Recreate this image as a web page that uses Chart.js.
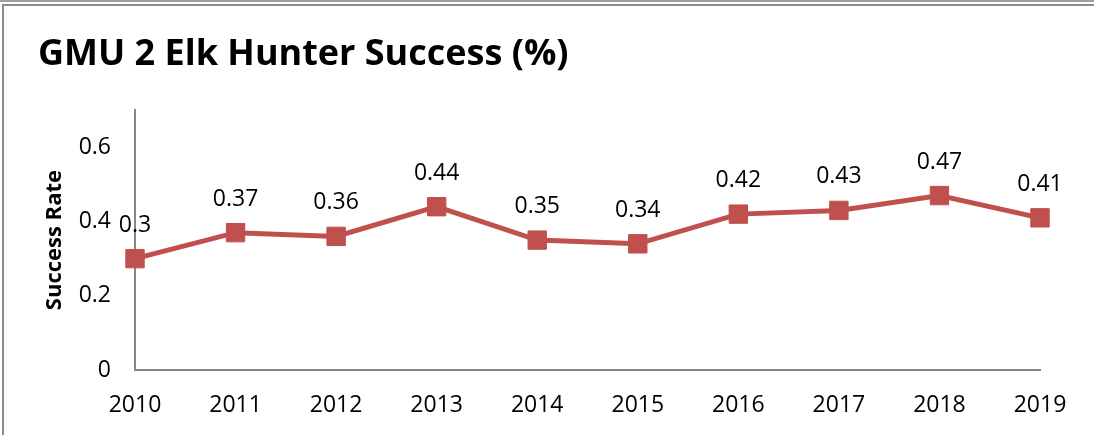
<!DOCTYPE html>
<html><head><meta charset="utf-8">
<script src="https://cdn.jsdelivr.net/npm/chart.js@4"></script>
<style>
html,body{margin:0;padding:0;background:#fff;}
#wrap{position:relative;width:1094px;height:435px;overflow:hidden;background:#fff;}
canvas{position:absolute;left:0;top:0;}
.ln{position:absolute;background:#8c8c8c;}
</style></head><body>
<div id="wrap">
<canvas id="c" width="1094" height="435"></canvas>
<div class="ln" style="left:0;top:0;width:1094px;height:2px;background:#a0a0a0"></div>
<div class="ln" style="left:3px;top:4px;width:1091px;height:2px"></div>
<div class="ln" style="left:2px;top:4px;width:2px;height:431px"></div>
</div>
<script>
const years = ['2010','2011','2012','2013','2014','2015','2016','2017','2018','2019'];
const successRate = [0.3,0.37,0.36,0.44,0.35,0.34,0.42,0.43,0.47,0.41];
const yTicks = [0,0.2,0.4,0.6];
const FONT = '"Open Sans", sans-serif';

const labelPlugin = {
  id: 'pointLabels',
  afterDatasetsDraw(chart) {
    const ctx = chart.ctx;
    const meta = chart.getDatasetMeta(0);
    ctx.save();
    ctx.font = '23px ' + FONT;
    ctx.fillStyle = '#000';
    ctx.textAlign = 'center';
    ctx.textBaseline = 'alphabetic';
    meta.data.forEach((pt, i) => {
      ctx.fillText(String(successRate[i]), pt.x, pt.y - 27);
    });
    ctx.restore();
  }
};

new Chart(document.getElementById('c'), {
  type: 'line',
  data: {
    labels: years,
    datasets: [{
      data: successRate,
      borderColor: '#C0504D',
      backgroundColor: '#C0504D',
      borderWidth: 5,
      pointStyle: 'rect',
      pointRadius: 13,
      pointBorderWidth: 1,
      pointBorderColor: '#C0504D',
      pointBackgroundColor: '#C0504D',
      tension: 0
    }]
  },
  options: {
    responsive: false,
    animation: false,
    devicePixelRatio: 1,
    layout: { padding: { left: 38, right: 54, top: 10, bottom: 0 } },
    plugins: {
      legend: { display: false },
      tooltip: { enabled: false },
      title: {
        display: true,
        text: 'GMU 2 Elk Hunter Success (%)',
        align: 'start',
        color: '#000',
        font: { family: FONT, size: 36, weight: 'bold' },
        padding: { top: 23, bottom: 34 }
      }
    },
    scales: {
      x: {
        type: 'category',
        offset: false,
        grid: { display: false, drawTicks: false },
        border: { display: true, color: '#868686', width: 2 },
        ticks: { color: '#000', font: { family: FONT, size: 23 }, padding: 22, maxRotation: 0, autoSkip: false },
        afterFit(s) { s.height = 65; }
      },
      y: {
        min: 0, max: 0.7,
        grid: { display: false, drawTicks: false },
        border: { display: true, color: '#868686', width: 2 },
        afterBuildTicks(s) { s.ticks = yTicks.map(v => ({ value: v })); },
        ticks: { color: '#000', font: { family: FONT, size: 23 }, padding: 24,
                 callback: v => String(v) },
        title: { display: true, text: 'Success Rate', color: '#000',
                 font: { family: FONT, size: 22, weight: 'bold' }, padding: { top: 4, bottom: 0 } },
        afterFit(s) { s.width = 97; }
      }
    }
  },
  plugins: [labelPlugin]
});
</script>
</body></html>
